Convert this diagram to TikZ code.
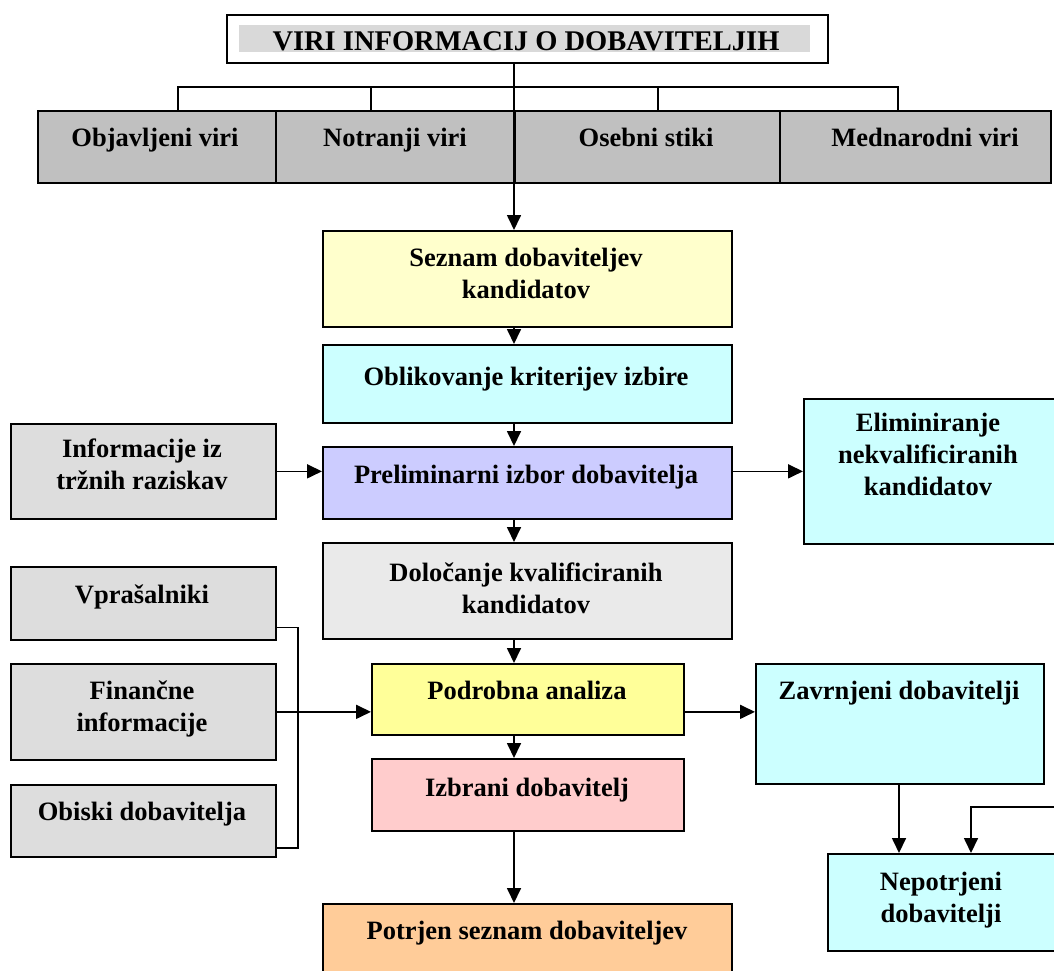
\documentclass[tikz,border=0pt]{standalone}
\usepackage{fontspec}
\setmainfont{Liberation Serif}
\usetikzlibrary{arrows.meta}

\definecolor{rowgrey}{HTML}{C0C0C0}
\definecolor{srcgrey}{HTML}{DDDDDD}
\definecolor{paleg}{HTML}{EAEAEA}
\definecolor{band}{HTML}{D9D9D9}
\definecolor{paley}{HTML}{FFFFCC}
\definecolor{cyanb}{HTML}{CCFFFF}
\definecolor{lavb}{HTML}{CCCCFF}
\definecolor{yelb}{HTML}{FFFF99}
\definecolor{pinkb}{HTML}{FFCCCC}
\definecolor{orab}{HTML}{FFCC99}

% rectangle given by its top-left and bottom-right corners
\newcommand\flowbox[6]{%
  \node[box, fill=#6, minimum width={(#4-(#2))*1pt}, minimum height={(#5-(#3))*1pt}]
    (#1) at (#2,#3) {};}

\begin{document}
\begin{tikzpicture}[x=1pt,y=-1pt,
  box/.style={draw=black, line width=1.7pt, rectangle, inner sep=0pt, anchor=north west},
  lbl/.style={font=\fontsize{26.5}{32}\selectfont\bfseries, align=center, inner sep=0pt,
    execute at begin node=\strut, execute at end node=\strut},
  conn/.style={line width=1.7pt},
  arr/.style={conn, -{Triangle[length=15pt,width=14pt]}}]

\clip (0,0) rectangle (1054,970);
\fill[white] (0,0) rectangle (1054,970);

% title
\flowbox{title}{226}{14}{827}{62}{white}
\fill[band] (239,25) rectangle (810,52);
\node[lbl, font=\fontsize{28.5}{34}\selectfont\bfseries] (t-title) at (526,44) {VIRI INFORMACIJ O DOBAVITELJIH};

% row of source types
\flowbox{row1}{37}{110}{275}{182}{rowgrey}
\flowbox{row2}{275}{110}{514}{182}{rowgrey}
\flowbox{row3}{514}{110}{779}{182}{rowgrey}
\flowbox{row4}{779}{110}{1050}{182}{rowgrey}
\node[lbl] (t-row1) at (155,140) {Objavljeni viri};
\node[lbl] (t-row2) at (395,140) {Notranji viri};
\node[lbl] (t-row3) at (646,140) {Osebni stiki};
\node[lbl] (t-row4) at (925,140) {Mednarodni viri};

% main column
\flowbox{sez}{322}{230}{731}{326}{paley}
\flowbox{obl}{322}{344}{731}{422}{cyanb}
\flowbox{pre}{322}{446}{731}{518}{lavb}
\flowbox{dol}{322}{542}{731}{638}{paleg}
\flowbox{pod}{371}{663}{683}{734}{yelb}
\flowbox{izb}{371}{758}{683}{830}{pinkb}
\flowbox{pot}{322}{903}{731}{1000}{orab}

\node[lbl] (t-sez) at (526,278.5) {Seznam dobaviteljev\\kandidatov};
\node[lbl] (t-obl) at (526,379.5) {Oblikovanje kriterijev izbire};
\node[lbl] (t-pre) at (526,477) {Preliminarni izbor dobavitelja};
\node[lbl] (t-dol) at (526,592.5) {Določanje kvalificiranih\\kandidatov};
\node[lbl] (t-pod) at (527,693) {Podrobna analiza};
\node[lbl] (t-izb) at (527,790) {Izbrani dobavitelj};
\node[lbl] (t-pot) at (527,933) {Potrjen seznam dobaviteljev};

% left inputs
\flowbox{inf}{10}{423}{275}{518}{srcgrey}
\flowbox{vpr}{10}{566}{275}{639}{srcgrey}
\flowbox{fin}{10}{663}{275}{759}{srcgrey}
\flowbox{obi}{10}{784}{275}{856}{srcgrey}
\node[lbl] (t-inf) at (142,468.5) {Informacije iz\\tržnih raziskav};
\node[lbl] (t-vpr) at (142,597) {Vprašalniki};
\node[lbl] (t-fin) at (142,710.5) {Finančne\\informacije};
\node[lbl] (t-obi) at (142,814) {Obiski dobavitelja};

% right outcomes
\flowbox{eli}{803}{398}{1080}{543}{cyanb}
\flowbox{zav}{755}{663}{1043}{783}{cyanb}
\flowbox{nep}{827}{853}{1080}{950}{cyanb}
\node[lbl] (t-eli) at (928,459.5) {Eliminiranje\\nekvalificiranih\\kandidatov};
\node[lbl] (t-zav) at (899,693) {Zavrnjeni dobavitelji};
\node[lbl] (t-nep) at (941,902.5) {Nepotrjeni\\dobavitelji};

% helper points
\coordinate (spine) at (514,0);
\coordinate (b1) at (178,87);
\coordinate (b2) at (371,87);
\coordinate (b3) at (658,87);
\coordinate (b4) at (898,87);
\coordinate (vx) at (298,0);
\coordinate (zx) at (899,0);
\coordinate (nx) at (971,0);
\coordinate (redge) at (1060,807);

% bracket over the source row
\draw[conn] (row1.north -| b1) -- (b1) -- (b4) -- (row4.north -| b4);
\draw[conn] (b2) -- (row2.north -| b2);
\draw[conn] (b3) -- (row3.north -| b3);

% spine of the flow
\draw[arr] (title.south -| spine) -- (sez.north -| spine);
\draw[arr] (sez.south -| spine) -- (obl.north -| spine);
\draw[arr] (obl.south -| spine) -- (pre.north -| spine);
\draw[arr] (pre.south -| spine) -- (dol.north -| spine);
\draw[arr] (dol.south -| spine) -- (pod.north -| spine);
\draw[arr] (pod.south -| spine) -- (izb.north -| spine);
\draw[arr] (izb.south -| spine) -- (pot.north -| spine);

% side connections
\draw[arr] (inf.east) -- (inf.east -| pre.west);
\draw[arr] (pre.east |- inf.east) -- (eli.west |- inf.east);
\draw[conn] ([yshift=-24pt]vpr.east) -- ([yshift=-24pt]vpr.east -| vx)
  -- ([yshift=-27pt]obi.east -| vx) -- ([yshift=-27pt]obi.east);
\draw[arr] (fin.east) -- (fin.east -| pod.west);
\draw[arr] (pod.east |- fin.east) -- (zav.west |- fin.east);
\draw[arr] (zav.south -| zx) -- (nep.north -| zx);
\draw[arr] (redge) -- (redge -| nx) -- (nep.north -| nx);

\end{tikzpicture}
\end{document}
